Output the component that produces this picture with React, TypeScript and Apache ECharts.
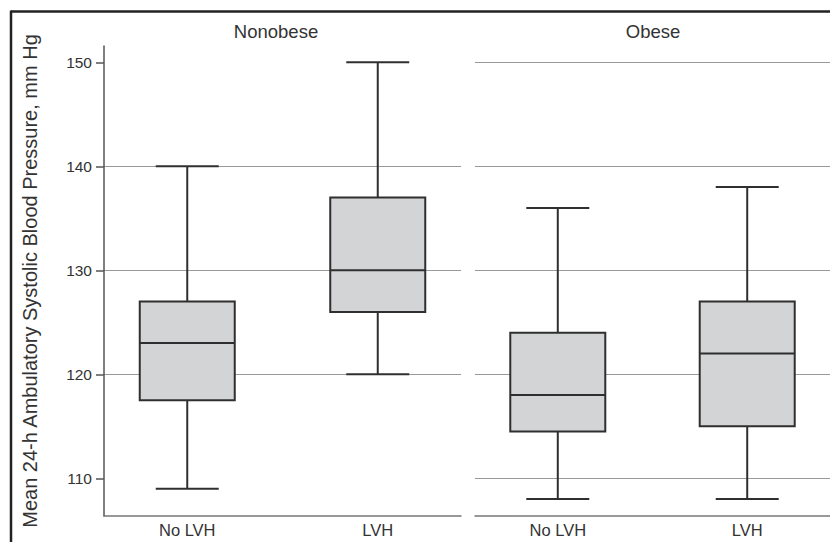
import React, { useEffect, useRef } from "react";
import * as echarts from "echarts";

// ---- data ----
const panels = ["Nonobese", "Obese"];
const groups = ["No LVH", "LVH"];
// [min, Q1, median, Q3, max]
const nonobeseBoxes = [
  [109, 117.5, 123, 127, 140],
  [120, 126, 130, 137, 150],
];
const obeseBoxes = [
  [108, 114.5, 118, 124, 136],
  [108, 115, 122, 127, 138],
];
const yTicks = [110, 120, 130, 140, 150];
const yMin = 106.37;
const yMax = 151.57;
const yName = "Mean 24-h Ambulatory Systolic Blood Pressure, mm Hg";

const FONT = "'Liberation Sans', Arial, Helvetica, sans-serif";
const BOX_W = 95;
const CAP_W = 63;
const STROKE = "#2f2f2f";
const FILL = "#d3d4d6";

function renderBox(params: any, api: any) {
  const x = api.value(0);
  const vals = [1, 2, 3, 4, 5].map((i) => api.coord([x, api.value(i)]));
  const cx = vals[0][0];
  const yMinP = vals[0][1];
  const yQ1 = vals[1][1];
  const yMed = vals[2][1];
  const yQ3 = vals[3][1];
  const yMaxP = vals[4][1];
  const ls = { stroke: STROKE, lineWidth: 2 };
  return {
    type: "group",
    children: [
      { type: "line", shape: { x1: cx, y1: yMaxP, x2: cx, y2: yQ3 }, style: ls },
      { type: "line", shape: { x1: cx, y1: yQ1, x2: cx, y2: yMinP }, style: ls },
      { type: "line", shape: { x1: cx - CAP_W / 2, y1: yMaxP, x2: cx + CAP_W / 2, y2: yMaxP }, style: ls },
      { type: "line", shape: { x1: cx - CAP_W / 2, y1: yMinP, x2: cx + CAP_W / 2, y2: yMinP }, style: ls },
      {
        type: "rect",
        shape: { x: cx - BOX_W / 2, y: yQ3, width: BOX_W, height: yQ1 - yQ3 },
        style: { fill: FILL, stroke: STROKE, lineWidth: 2 },
      },
      { type: "line", shape: { x1: cx - BOX_W / 2, y1: yMed, x2: cx + BOX_W / 2, y2: yMed }, style: ls },
    ],
  };
}

export default function App() {
  const ref = useRef<HTMLDivElement>(null);
  useEffect(() => {
    document.body.style.margin = "0";
    const chart = echarts.init(ref.current!, undefined, { renderer: "svg" });
    const splitLine = {
      show: true,
      showMinLine: false,
      showMaxLine: false,
      lineStyle: { color: "#9a9a9a", width: 1 },
    };
    const xAxisCommon = (gridIndex: number) => ({
      type: "value",
      gridIndex,
      min: -0.437,
      max: 1.437,
      axisLine: { show: true, onZero: false, lineStyle: { color: "#777", width: 1.5 } },
      axisTick: { show: false },
      splitLine: { show: false },
      axisLabel: {
        customValues: [0, 1],
        formatter: (v: number) => groups[Math.round(v)] ?? "",
        fontSize: 16.5,
        color: "#333",
        fontFamily: FONT,
        margin: 5,
      },
    });
    const toData = (boxes: number[][]) => boxes.map((b, i) => [i, ...b]);
    chart.setOption({
      animation: false,
      backgroundColor: "#fff",
      grid: [
        { left: 104, right: 369, top: 46, bottom: 26 },
        { left: 475, right: 0, top: 46, bottom: 26 },
      ],
      xAxis: [xAxisCommon(0), xAxisCommon(1)],
      yAxis: [
        {
          type: "value",
          gridIndex: 0,
          min: yMin,
          max: yMax,
          name: yName,
          nameLocation: "middle",
          nameGap: 64,
          nameTextStyle: { fontSize: 20, color: "#333", fontFamily: FONT },
          axisLine: { show: true, onZero: false, lineStyle: { color: "#555", width: 1.5 } },
          axisTick: { show: true, length: 8, customValues: yTicks, lineStyle: { color: "#555", width: 1.5 } },
          axisLabel: { customValues: yTicks, fontSize: 15.5, color: "#333", fontFamily: FONT, margin: 12 },
          splitLine,
        },
        {
          type: "value",
          gridIndex: 1,
          min: yMin,
          max: yMax,
          axisLine: { show: false, onZero: false },
          axisTick: { show: false },
          axisLabel: { show: false },
          splitLine,
        },
      ],
      series: [
        {
          type: "custom",
          name: panels[0],
          xAxisIndex: 0,
          yAxisIndex: 0,
          renderItem: renderBox,
          encode: { x: 0, y: [1, 2, 3, 4, 5] },
          data: toData(nonobeseBoxes),
        },
        {
          type: "custom",
          name: panels[1],
          xAxisIndex: 1,
          yAxisIndex: 1,
          renderItem: renderBox,
          encode: { x: 0, y: [1, 2, 3, 4, 5] },
          data: toData(obeseBoxes),
        },
      ],
      graphic: [
        {
          type: "line",
          shape: { x1: 11, y1: 11.5, x2: 830, y2: 11.5 },
          style: { stroke: "#222", lineWidth: 2.5 },
          silent: true,
        },
        {
          type: "line",
          shape: { x1: 11, y1: 10.5, x2: 11, y2: 542 },
          style: { stroke: "#222", lineWidth: 2.5 },
          silent: true,
        },
        {
          type: "text",
          x: 276,
          y: 31,
          style: {
            text: panels[0],
            fontSize: 18.5,
            fill: "#333",
            fontFamily: FONT,
            textAlign: "center",
            textVerticalAlign: "middle",
          },
        },
        {
          type: "text",
          x: 653,
          y: 31,
          style: {
            text: panels[1],
            fontSize: 18.5,
            fill: "#333",
            fontFamily: FONT,
            textAlign: "center",
            textVerticalAlign: "middle",
          },
        },
      ],
    });
    return () => chart.dispose();
  }, []);
  return <div ref={ref} style={{ width: 830, height: 542 }} />;
}
